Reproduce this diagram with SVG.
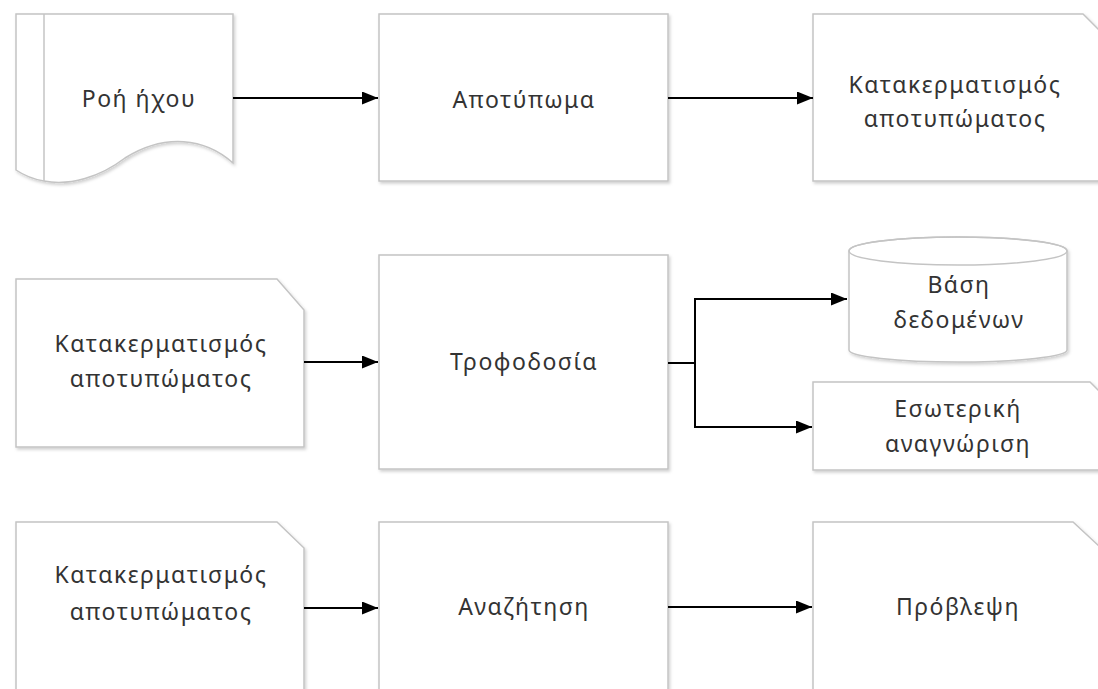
<svg xmlns="http://www.w3.org/2000/svg" width="1098" height="689" viewBox="0 0 1098 689">
<defs>
<filter id="sh" x="-5%" y="-5%" width="115%" height="115%">
<feDropShadow dx="1.5" dy="2" stdDeviation="1.5" flood-color="#000" flood-opacity="0.18"/>
</filter>
<marker id="ah" viewBox="0 0 16 13" refX="16" refY="6.5" markerWidth="16" markerHeight="13" markerUnits="userSpaceOnUse" orient="auto">
<path d="M0,0 L16,6.5 L0,13 Z" fill="#000"/>
</marker>
</defs>
<style>
.n{fill:#fff;stroke:#c4c4c4;stroke-width:1.5;filter:url(#sh)}
.l{fill:none;stroke:#c4c4c4;stroke-width:1.5}
.t{font-family:"Noto Sans","Open Sans",sans-serif;font-size:23px;letter-spacing:1.5px;fill:#333;text-anchor:middle}
.c{fill:none;stroke:#000;stroke-width:2;marker-end:url(#ah)}
</style>
<rect width="1098" height="689" fill="#fff"/>

<g id="n1">
<path class="n" d="M16,14 L233,14 L233,163 C205,138 165,133 125,158 C100,177 70,186 44,181 C32,179 22,174 16,170 Z"/>
<path class="l" d="M44,14 L44,181"/>
<text class="t" x="139" y="107">Ροή ήχου</text>
</g>
<g id="n2">
<rect class="n" x="379" y="14" width="289" height="167"/>
<text class="t" x="524" y="108">Αποτύπωμα</text>
</g>
<g id="n3">
<path class="n" d="M813,14 L1083,14 L1102,33 L1102,181 L813,181 Z"/>
<text class="t" x="955" y="93">Κατακερματισμός</text>
<text class="t" x="955" y="127">αποτυπώματος</text>
</g>

<g id="n4">
<path class="n" d="M16,279 L277,279 L304,310 L304,447 L16,447 Z"/>
<text class="t" x="161" y="352">Κατακερματισμός</text>
<text class="t" x="161" y="387">αποτυπώματος</text>
</g>
<g id="n5">
<rect class="n" x="379" y="255" width="289" height="214"/>
<text class="t" x="524" y="370">Τροφοδοσία</text>
</g>
<g id="n6">
<path class="n" d="M849,251 L849,350 A109,12 0 0 0 1067,350 L1067,251 A109,14 0 0 0 849,251 Z"/>
<ellipse class="l" cx="958" cy="251" rx="109" ry="14"/>
<text class="t" x="959" y="293">Βάση</text>
<text class="t" x="959" y="328">δεδομένων</text>
</g>
<g id="n7">
<path class="n" d="M813,382 L1090,382 L1110,402 L1110,470 L813,470 Z"/>
<text class="t" x="958" y="417">Εσωτερική</text>
<text class="t" x="958" y="452">αναγνώριση</text>
</g>

<g id="n8">
<path class="n" d="M16,522 L277,522 L304,548 L304,700 L16,700 Z"/>
<text class="t" x="161" y="583">Κατακερματισμός</text>
<text class="t" x="161" y="620">αποτυπώματος</text>
</g>
<g id="n9">
<rect class="n" x="379" y="522" width="289" height="180"/>
<text class="t" x="524" y="615">Αναζήτηση</text>
</g>
<g id="n10">
<path class="n" d="M813,522 L1073,522 L1100,547 L1100,700 L813,700 Z"/>
<text class="t" x="958" y="615">Πρόβλεψη</text>
</g>

<g id="connectors">
<path class="c" d="M233,98 L378,98"/>
<path class="c" d="M668,98 L813,98"/>
<path class="c" d="M304,362 L378,362"/>
<path class="c" d="M668,363 L695,363 L695,299 L847,299"/>
<path class="c" d="M695,363 L695,427 L812,427"/>
<path class="c" d="M304,608 L378,608"/>
<path class="c" d="M668,607 L812,607"/>
</g>
</svg>
